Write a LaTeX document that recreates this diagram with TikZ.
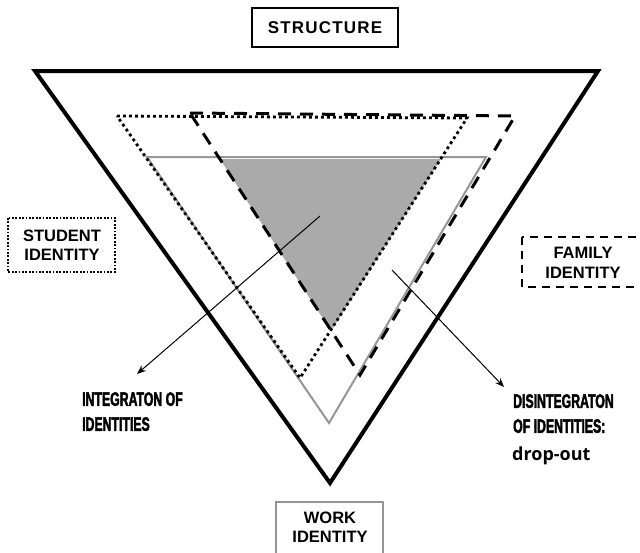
\documentclass[tikz,border=0pt]{standalone}
\usepackage{fontspec}
\usepackage{graphicx}
\setmainfont{Liberation Sans}
\newfontfamily\condfont{Liberation Sans}[FakeStretch=0.63, FakeBold=2]
\newfontfamily\dropfont{Open Sans}
\usetikzlibrary{arrows.meta}
\definecolor{fillgray}{RGB}{170,170,170}
\definecolor{linegray}{RGB}{150,150,150}
\tikzset{
  labelbox/.style={font=\bfseries\fontsize{16.5}{19.5}\selectfont, align=center, inner sep=0pt},
  condlabel/.style={anchor=north west, inner sep=0pt, align=left, font=\condfont\bfseries\fontsize{19.5}{25}\selectfont},
  pointer/.style={line width=1pt, -{Stealth[length=9pt,width=7pt]}},
}
\begin{document}
\begin{tikzpicture}[x=1pt,y=-1pt]
\useasboundingbox (0,0) rectangle (640,552);
\fill[white] (0,0) rectangle (640,552);

% shaded integration area
\fill[fillgray] (220,159) -- (441,159) -- (331,331) -- cycle;
% work identity triangle (gray)
\draw[linegray, line width=2pt, line join=miter] (147,157) -- (486,157) -- (329,423) -- cycle;
% student identity triangle (dotted)
\draw[black, line width=2.8pt, dash pattern=on 2.8pt off 3.2pt] (117,116) -- (467,118) -- (300,378) -- cycle;
% family identity triangle (dashed)
\draw[black, line width=3pt, dash pattern=on 13pt off 9pt] (190,113) -- (515,116) -- (360,375) -- cycle;
% structure triangle
\draw[black, line width=4pt, line join=miter] (35,71) -- (598,71) -- (330,483) -- cycle;

% labels
\draw[black, line width=2.5pt] (252,8) rectangle (398,47);
\node[labelbox, font=\bfseries\fontsize{17}{20}\selectfont\addfontfeature{LetterSpace=7}] (structure) at (325,28) {STRUCTURE};

\draw[black, line width=1.8pt, dash pattern=on 1.8pt off 1.6pt] (8,218) rectangle (115,272);
\node[labelbox] (student) at (62,245) {STUDENT\\IDENTITY};

\draw[black, line width=2pt, dash pattern=on 8pt off 6pt] (522,237) rectangle (648,287);
\node[labelbox] (family) at (583,263) {FAMILY\\IDENTITY};

\draw[linegray, line width=2pt] (276,502) rectangle (383,556);
\node[labelbox] (work) at (330,527) {WORK\\IDENTITY};

\node[condlabel] (integ) at (82,392) {INTEGRATON OF\\IDENTITIES};
\node[condlabel] (disinteg) at (513,394) {DISINTEGRATON\\OF IDENTITIES:};
\node[anchor=base west, inner sep=0pt, font=\dropfont\bfseries\fontsize{18}{20}\selectfont] (drop) at (512,460) {drop-out};

% connectors
\coordinate (s1) at (320,216);
\coordinate (e1) at (137,374);
\coordinate (s2) at (392,270);
\coordinate (e2) at (504,387);
\draw[pointer] (s1) -- (e1);
\draw[pointer] (s2) -- (e2);
\end{tikzpicture}
\end{document}
